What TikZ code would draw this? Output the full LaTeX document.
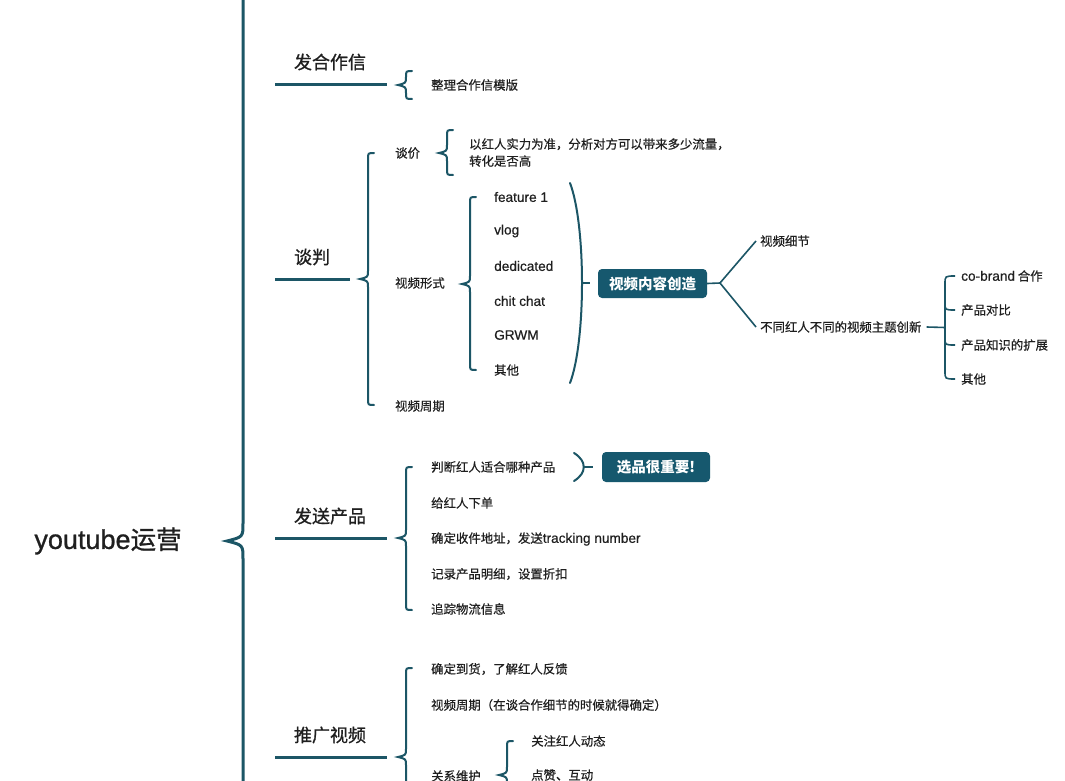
\documentclass[tikz,border=0pt]{standalone}
\usepackage{fontspec}
\setmainfont{Noto Sans CJK SC}
\newfontfamily\medf{Noto Sans CJK SC}[FakeBold=0.5]
\newfontfamily\medt{Noto Sans CJK SC}[FakeBold=0.9]
\newfontfamily\lat{Liberation Sans}[Scale=1.1,FakeBold=0.5]
\newfontfamily\latt{Liberation Sans}[Scale=1.06,FakeBold=0.9]
\definecolor{tl}{RGB}{28,86,102}
\definecolor{bx}{RGB}{22,88,110}
\newcommand\mybr[4]{\draw[brc] ({#1+6},#2) .. controls (#1,#2) .. (#1,{#2+6}) -- (#1,{#3-8}) .. controls (#1,{#3-2}) .. ({#1-8},#3) .. controls (#1,{#3+2}) .. (#1,{#3+8}) -- (#1,{#4-6}) .. controls (#1,#4) .. ({#1+6},#4);}
\begin{document}
\begin{tikzpicture}[x=1pt,y=-1pt,
 brc/.style={draw=tl,line width=2pt,line cap=round},
 mainl/.style={draw=tl,line width=3pt},
 thin/.style={draw=tl,line width=1.6pt},
 txt/.style={anchor=west,inner sep=0pt,font=\medf\fontsize{12.4}{17}\selectfont,text=black!88},
 ttl/.style={inner sep=0pt,font=\medt\fontsize{18}{20}\selectfont,text=black!88},
 hbox/.style={fill=bx,rounded corners=4pt,text=white,font=\bfseries\fontsize{14.5}{16}\selectfont,minimum width=109pt,minimum height=29pt,inner sep=0pt}]
\fill[white] (0,0) rectangle (1065,781);
\path[use as bounding box] (0,0) rectangle (1065,781);
\begin{scope}
\clip (0,0) rectangle (1065,781);
% root
\node[inner sep=0pt,font=\medt\fontsize{25.5}{27}\selectfont,text=black!88] (root) at (108,541) {{\latt youtube}运营};
\draw[mainl] (243,-10) -- (243,523) .. controls (243,537) .. (227,541) .. controls (243,545) .. (243,559) -- (243,800);
% top-level titles and lines
\node[ttl] (t1) at (330,62) {发合作信};
\coordinate (t1a) at (275,85); \coordinate (t1b) at (387,85);
\draw[mainl] (t1a) -- (t1b);
\node[ttl] (t2) at (312,257) {谈判};
\coordinate (t2a) at (275,279); \coordinate (t2b) at (350,279);
\draw[mainl] (t2a) -- (t2b);
\node[ttl] (t3) at (330,516) {发送产品};
\coordinate (t3a) at (275,538); \coordinate (t3b) at (387,538);
\draw[mainl] (t3a) -- (t3b);
\node[ttl] (t4) at (330,735) {推广视频};
\coordinate (t4a) at (275,757); \coordinate (t4b) at (387,757);
\draw[mainl] (t4a) -- (t4b);
% 发合作信
\mybr{406}{71}{85}{99}
\node[txt] (a1) at (431,85) {整理合作信模版};
% 谈判
\mybr{368}{153}{279}{405}
\node[txt] (b1) at (395,153) {谈价};
\node[txt] (b2) at (395,283) {视频形式};
\node[txt] (b3) at (395,406) {视频周期};
\mybr{447}{130}{153}{175}
\node[txt,align=left] (b11) at (469,152.5) {以红人实力为准，分析对方可以带来多少流量，\\转化是否高};
\mybr{470}{197}{284}{370}
\node[txt] (f1) at (494,197) {\lat feature 1};
\node[txt] (f2) at (494,231) {\lat vlog};
\node[txt] (f3) at (494,266) {\lat dedicated};
\node[txt] (f4) at (494,301) {\lat chit chat};
\node[txt] (f5) at (494,335) {\lat GRWM};
\node[txt] (f6) at (494,370) {其他};
\draw[brc] (570,183) .. controls (586,225) and (586,341) .. (570,383);
\coordinate (p1a) at (583,283); \coordinate (p1b) at (590,283);
\draw[thin] (p1a) -- (p1b);
\node[hbox] (vb) at (652.5,283.5) {视频内容创造};
\coordinate (fk) at (720,283);
\node[txt] (d1) at (760,241) {视频细节};
\node[txt] (d2) at (760,327) {不同红人不同的视频主题创新};
\draw[thin] (vb.east) -- (fk);
\draw[thin] (fk) -- ([xshift=-4pt]d1.west);
\draw[thin] (fk) -- ([xshift=-4pt]d2.west);
\coordinate (bk) at (945,327.5);
\draw[thin] ([xshift=5pt]d2.east) -- (bk);
\draw[thin] (955,276) .. controls (945,276) .. (945,284) -- (945,371) .. controls (945,379) .. (955,379);
\draw[thin] (945,303) .. controls (945,310) .. (955,310);
\draw[thin] (945,338) .. controls (945,345) .. (955,345);
\node[txt] (e1) at (961,276) {{\lat co-brand} 合作};
\node[txt] (e2) at (961,310) {产品对比};
\node[txt] (e3) at (961,345) {产品知识的扩展};
\node[txt] (e4) at (961,379) {其他};
% 发送产品
\mybr{406}{467}{538}{610}
\node[txt] (c1) at (431,467) {判断红人适合哪种产品};
\node[txt] (c2) at (431,503) {给红人下单};
\node[txt] (c3) at (431,539) {确定收件地址，发送{\lat tracking number}};
\node[txt] (c4) at (431,574) {记录产品明细，设置折扣};
\node[txt] (c5) at (431,609) {追踪物流信息};
\draw[brc] (574,453) .. controls (587,461) and (587,473) .. (574,481);
\coordinate (p2a) at (584,467); \coordinate (p2b) at (593,467);
\draw[thin] (p2a) -- (p2b);
\node[hbox,minimum width=108pt,minimum height=30pt] (xp) at (656,467) {选品很重要!};
% 推广视频
\mybr{406}{668}{757}{846}
\node[txt] (g1) at (431,669) {确定到货，了解红人反馈};
\node[txt] (g2) at (431,705) {视频周期（在谈合作细节的时候就得确定）};
\node[txt] (g3) at (431,776) {关系维护};
\mybr{507}{741}{775}{809}
\node[txt] (h1) at (531,741) {关注红人动态};
\node[txt] (h2) at (531,775) {点赞、互动};
\end{scope}
\end{tikzpicture}
\end{document}
